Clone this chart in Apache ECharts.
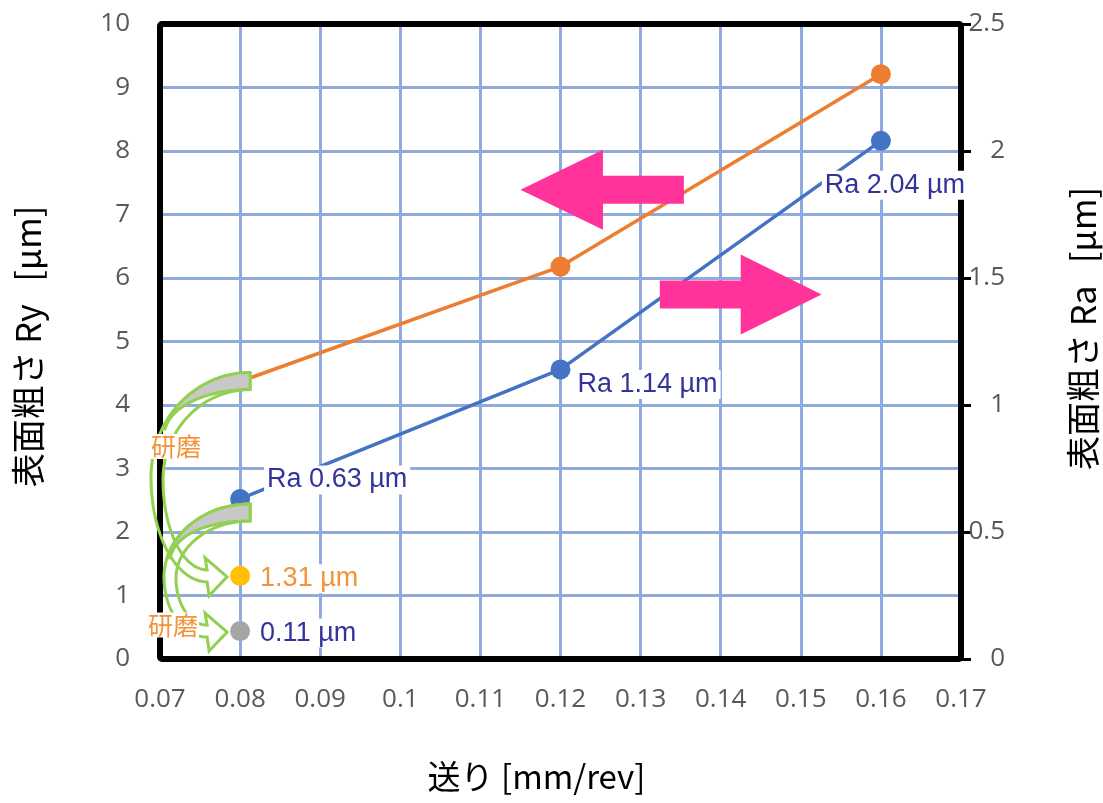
<!DOCTYPE html>
<html><head><meta charset="utf-8">
<script src="https://cdn.jsdelivr.net/npm/echarts@6/dist/echarts.min.js"></script>
<style>html,body{margin:0;padding:0;background:#fff}#c{width:1103px;height:803px}</style>
</head><body><div id="c"></div>
<script>
// ---- data ----
const feeds = [0.08, 0.12, 0.16];
const ryValues = [4.37, 6.18, 9.21];          // 表面粗さ Ry [µm] (left axis)
const raValues = [0.63, 1.14, 2.04];          // 表面粗さ Ra [µm] (right axis)
const polishedRy = [[0.08, 1.31]];            // after 研磨, Ry (left axis)
const polishedRa = [[0.08, 0.11]];            // after 研磨, Ra (right axis)
const xTicks = {min: 0.07, max: 0.17, interval: 0.01};
const yLeftTicks = {min: 0, max: 10, interval: 1};
const yRightTicks = {min: 0, max: 2.5, interval: 0.5};

const labelBlue = '#333399';
const labelOrange = '#F39237';
const tickFont = {fontFamily: 'Open Sans', fontSize: 26, color: '#595959'};
const nameFont = {fontFamily: 'Noto Sans CJK JP', fontSize: 34, color: '#000'};

const chart = echarts.init(document.getElementById('c'));
const raLabelCfg = [
  {position: 'right', offset: [9, -19]},
  {position: 'right', offset: [-1, 15]},
  {position: 'bottom', offset: [14, 15]}
];
const labelBase = {show: true, fontFamily: 'Liberation Sans', fontSize: 27, backgroundColor: '#fff', padding: [1, 3]};

chart.setOption({
  animation: false,
  grid: {left: 160, top: 24, right: 142, bottom: 144, outerBoundsMode: 'none', containLabel: false, show: false},
  xAxis: {
    type: 'value', min: xTicks.min, max: xTicks.max, interval: xTicks.interval,
    name: '送り [mm/rev]', nameLocation: 'middle', nameGap: 101,
    nameTextStyle: Object.assign({}, nameFont, {fontSize: 33, padding: [0, 48, 0, 0]}),
    axisLine: {show: false}, axisTick: {show: false},
    axisLabel: Object.assign({margin: 28, formatter: v => String(+v.toFixed(2))}, tickFont),
    splitLine: {show: true, lineStyle: {color: '#8FAADC', width: 3}}
  },
  yAxis: [
    {
      type: 'value', min: yLeftTicks.min, max: yLeftTicks.max, interval: yLeftTicks.interval,
      name: '表面粗さ Ry\u00a0\u00a0 [µm]', nameLocation: 'middle', nameGap: 115,
      nameTextStyle: Object.assign({}, nameFont, {padding: [0, 10, 0, 0]}),
      axisLine: {show: false}, axisTick: {show: false},
      axisLabel: Object.assign({margin: 30}, tickFont),
      splitLine: {show: true, lineStyle: {color: '#8FAADC', width: 3}}
    },
    {
      type: 'value', position: 'right', min: yRightTicks.min, max: yRightTicks.max, interval: yRightTicks.interval,
      name: '表面粗さ Ra\u00a0\u00a0 [µm]', nameLocation: 'middle', nameGap: 105, nameRotate: 90,
      nameTextStyle: Object.assign({}, nameFont, {padding: [0, 0, 0, 26]}),
      axisLine: {show: false},
      axisTick: {show: true, length: 10, lineStyle: {color: '#000', width: 3}},
      axisLabel: Object.assign({margin: 44, align: 'right'}, tickFont),
      splitLine: {show: false}
    }
  ],
  series: [
    {
      name: 'Ry', type: 'line', yAxisIndex: 0,
      data: feeds.map((f, i) => [f, ryValues[i]]),
      symbol: 'circle', symbolSize: 20,
      lineStyle: {color: '#ED7D31', width: 3.5}, itemStyle: {color: '#ED7D31'}, z: 3
    },
    {
      name: 'Ra', type: 'line', yAxisIndex: 1,
      data: feeds.map((f, i) => ({
        value: [f, raValues[i]],
        label: Object.assign({}, labelBase, raLabelCfg[i], {color: labelBlue, formatter: p => 'Ra ' + p.value[1].toFixed(2) + ' µm'})
      })),
      symbol: 'circle', symbolSize: 20,
      lineStyle: {color: '#4472C4', width: 3.5}, itemStyle: {color: '#4472C4'}, z: 3
    },
    {
      name: 'Ry 研磨', type: 'scatter', yAxisIndex: 0, data: polishedRy,
      symbolSize: 20, itemStyle: {color: '#FFC000', opacity: 1},
      label: Object.assign({}, labelBase, {position: 'right', offset: [2, 3], color: labelOrange, opacity: 1, formatter: p => p.value[1].toFixed(2) + ' µm'}), z: 4
    },
    {
      name: 'Ra 研磨', type: 'scatter', yAxisIndex: 1, data: polishedRa,
      symbolSize: 20, itemStyle: {color: '#A5A5A5', opacity: 1},
      label: Object.assign({}, labelBase, {position: 'right', offset: [2, 2], color: labelBlue, opacity: 1, formatter: p => p.value[1].toFixed(2) + ' µm'}), z: 4
    }
  ]
});

// ---- annotations (anchored to data coordinates) ----
const pxL = (x, y) => chart.convertToPixel({xAxisIndex: 0, yAxisIndex: 0}, [x, y]);
const pxR = (x, y) => chart.convertToPixel({xAxisIndex: 0, yAxisIndex: 1}, [x, y]);
const pink = '#FF3399', green = '#92D050';

function arrowPoly(tip, headBaseX, tailX, headHalf, shaftHalf) {
  const y = tip[1];
  return [[tip[0], y], [headBaseX, y - headHalf], [headBaseX, y - shaftHalf], [tailX, y - shaftHalf],
          [tailX, y + shaftHalf], [headBaseX, y + shaftHalf], [headBaseX, y + headHalf]];
}
const lTip = pxL(0.1150, 7.39), lBase = pxL(0.1253, 0)[0], lTail = pxL(0.1354, 0)[0];
const rTip = pxL(0.1526, 5.74), rBase = pxL(0.1425, 0)[0], rTail = pxL(0.1324, 0)[0];

function cubic(p0, p1, p2, p3, n) {
  const pts = [];
  for (let i = 0; i <= n; i++) {
    const t = i / n, u = 1 - t;
    pts.push([u*u*u*p0[0] + 3*u*u*t*p1[0] + 3*u*t*t*p2[0] + t*t*t*p3[0],
              u*u*u*p0[1] + 3*u*u*t*p1[1] + 3*u*t*t*p2[1] + t*t*t*p3[1]]);
  }
  return pts;
}
const K = 0.552;
function halfEllipse(x0, y0, l, x1, y1, split) { // top (x0,y0) -> leftmost l -> bottom (x1,y1)
  const cy = y0 + (y1 - y0) * split;
  return cubic([x0, y0], [x0 - K * (x0 - l), y0], [l, cy - K * (cy - y0)], [l, cy], 30)
    .concat(cubic([l, cy], [l, cy + K * (y1 - cy)], [x1 - K * (x1 - l), y1], [x1, y1], 30).slice(1));
}
function curvedArrow(S, E, L, crescentTipDy, split) {
  const sx = S[0] + 10, ty = S[1] - 9, ty2 = S[1] + 8;
  const nx = E[0] - 33, by = E[1] + 6, by2 = E[1] - 6;
  const outer = halfEllipse(sx, ty, L, nx, by, split);
  const inner = halfEllipse(sx, ty2, L + 12, nx, by2, split).reverse();
  const head = [[nx + 2, E[1] + 20], [E[0] - 13, E[1] + 1], [nx - 2, E[1] - 18]];
  const band = outer.concat(head, inner);
  // crescent (back face): follows the outer edge down to the tip, returns along a tighter curve
  const tipY = S[1] + crescentTipDy;
  const cOuter = [];
  for (const p of outer) { if (p[1] > tipY) break; cOuter.push(p); }
  const tip = cOuter[cOuter.length - 1];
  const tipIn = [tip[0] + 3, tip[1]];
  const cInner = cubic(tipIn, [tipIn[0] + 6, tipIn[1] - 24], [sx - 42, ty2], [sx, ty2], 24);
  const crescent = cOuter.concat(cInner);
  return [
    {type: 'polygon', shape: {points: band}, style: {fill: 'none', stroke: green, lineWidth: 3}, z: 50},
    {type: 'polygon', shape: {points: crescent}, style: {fill: '#C8C8C8', stroke: green, lineWidth: 3, lineJoin: 'round'}, z: 51}
  ];
}
const Sry = pxL(feeds[0], ryValues[0]), Ery = pxL(polishedRy[0][0], polishedRy[0][1]);
const Sra = pxR(feeds[0], raValues[0]), Era = pxR(polishedRa[0][0], polishedRa[0][1]);
const tl = pxL(xTicks.min, yLeftTicks.max), br = pxL(xTicks.max, yLeftTicks.min);
const leftEdge = tl[0];

const kenmaStyle = {text: '研磨', fontFamily: 'Noto Sans CJK JP', fontSize: 25, fill: labelOrange,
  backgroundColor: '#fff', padding: [0, 1], align: 'center', verticalAlign: 'middle'};

chart.setOption({
  graphic: [
    {type: 'rect', shape: {x: tl[0], y: tl[1], width: br[0] - tl[0], height: br[1] - tl[1], r: 2},
      style: {fill: 'none', stroke: '#000', lineWidth: 6}, z: 1},
    {type: 'polygon', shape: {points: arrowPoly(lTip, lBase, lTail, 40, 14)}, style: {fill: pink}, z: 40},
    {type: 'polygon', shape: {points: arrowPoly(rTip, rBase, rTail, 40, 14)}, style: {fill: pink}, z: 40},
    ...curvedArrow(Sry, Ery, leftEdge - 9, 50, 0.5),
    ...curvedArrow([Sra[0], Sra[1] + 14], Era, leftEdge + 4, 48, 0.55),
    {type: 'text', x: Sry[0] - 64, y: Sry[1] + 65, style: kenmaStyle, z: 60},
    {type: 'text', x: Era[0] - 67, y: Era[1] - 6, style: kenmaStyle, z: 60}
  ]
});
</script></body></html>
